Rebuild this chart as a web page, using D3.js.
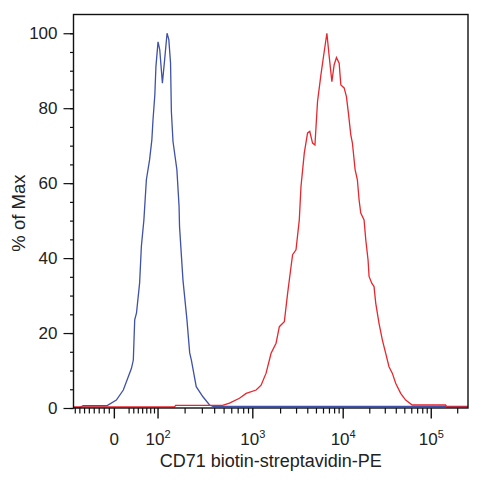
<!DOCTYPE html>
<html>
<head>
<meta charset="utf-8">
<script src="https://cdn.jsdelivr.net/npm/d3@7"></script>
<style>
  body { margin: 0; background: #fff; }
  svg text { font-family: "Liberation Sans", Arial, sans-serif; fill: #222; }
</style>
</head>
<body>
<script>
// unstained / control sample (blue) and stained sample (red), % of max per bin
const blueX = [-84, -70, -63, -15, 4, 18, 35, 39, 42, 46, 53, 57, 63, 69, 77, 83, 86, 91, 94, 100,
  105, 113, 120, 128, 134, 140, 143, 149, 164, 173, 175, 190, 209, 223, 232, 260, 304, 355, 390, 262144]
const blueY = [0.1, 0.1, 0.6, 0.6, 2.1, 4.8, 10.6, 12.8, 23.5, 25.4, 33.4, 43.1, 50.2, 60.9, 66.2, 71.6, 76.9, 83.6, 91.1, 97.7,
  95.6, 86.7, 92.9, 100, 98.3, 92.1, 79.1, 71.1, 63.6, 53.8, 48.4, 34.2, 23.5, 14.7, 12.8, 5.7, 3.0, 0.8, 0.4, 0.4]

const redX = [-84, 155, 159, 482, 568, 722, 850, 1085, 1227, 1389, 1574, 1784, 1938, 2198, 2389, 2605, 2713, 2958, 3218, 3360,
  3656, 3978, 4209, 4523, 4810, 5142, 5612, 6000, 6550, 6952, 7455, 7910, 8395, 9004, 9408, 10247, 10880, 11456, 12190, 12710,
  13640, 14470, 15130, 15810, 17230, 18010, 19120, 19630, 21060, 22350, 23360, 25460, 27760, 30330, 33060, 36030, 39380, 44860, 51140, 60750,
  145440, 150470, 262144]
const redY = [0.3, 0.3, 0.7, 0.7, 1.3, 2.6, 3.9, 4.8, 6.1, 9.3, 14.6, 17.3, 21.7, 23.0, 30.6, 37.7, 40.9, 42.2, 50.2, 59.1,
  68.0, 73.4, 73.8, 70.7, 70.2, 81.8, 88.9, 93.8, 100, 93.8, 87.1, 91.6, 93.5, 92.0, 86.2, 85.4, 83.1, 78.7, 72.9, 70.7,
  63.6, 60.9, 55.5, 52.0, 50.2, 44.9, 39.5, 35.1, 33.3, 32.4, 28.0, 22.6, 18.2, 14.6, 11.0, 9.3, 6.6, 3.9, 2.1, 0.8,
  0.8, 0.3, 0.3]

const xDomain = [-84, 262144]
const xMajor = [0, 100, 1000, 10000, 100000]
const xMajorExp = [null, 2, 3, 4, 5]
const xMinor = [-80, -70, -60, -50, -40, -30, -20, -10, 30, 40, 50, 60, 70, 80, 90,
  200, 300, 400, 500, 600, 700, 800, 900, 2000, 3000, 4000, 5000, 6000, 7000, 8000, 9000,
  20000, 30000, 40000, 50000, 60000, 70000, 80000, 90000, 200000]
const yMajor = [0, 20, 40, 60, 80, 100]
const yMinor = d3.range(0, 105, 5)

const xTitle = 'CD71 biotin-streptavidin-PE'
const yTitle = '% of Max'

// biexponential display transform (value <-> display units)
const biex = { a: 24.4, k: 88, d: 134, m: 230, e: 109.6 }
function biexValue(u) {
  return biex.a * Math.pow(10, u / biex.k) - biex.d * Math.pow(10, -u / biex.m) + biex.e
}
function biexUnits(v) {
  let lo = -300, hi = 600
  for (let i = 0; i < 60; i++) {
    let mid = (lo + hi) / 2
    if (biexValue(mid) < v) lo = mid; else hi = mid
  }
  return (lo + hi) / 2
}

let margins = { top: 14.5, right: 15, bottom: 72, left: 73.5 }
let width = 483 - margins.left - margins.right
let height = 480 - margins.top - margins.bottom

let x = d3.scaleLinear()
  .domain(xDomain.map(biexUnits))
  .range([0, width])
let xPos = (v) => x(biexUnits(v))

let y = d3.scaleLinear()
  .domain([0, 105])
  .range([height, 0])

let svg = d3.select('body').append('svg')
    .attr('width', 483)
    .attr('height', 480)
  .append('g')
    .attr('transform', 'translate(' + [margins.left, margins.top] + ')')

// y axis: minor then major ticks
svg.append('g')
  .call(d3.axisLeft(y).tickValues(yMinor).tickSize(3.5).tickFormat(''))
  .call((g) => g.select('.domain').remove())
  .selectAll('line').attr('stroke', '#111').attr('stroke-width', 1.2)

svg.append('g')
  .call(d3.axisLeft(y).tickValues(yMajor).tickSize(10).tickPadding(6))
  .call((g) => g.select('.domain').remove())
  .call((g) => g.selectAll('line').attr('stroke', '#111').attr('stroke-width', 1.2))
  .selectAll('text')
    .attr('font-size', 17)
    .attr('font-family', '"Liberation Sans", Arial, sans-serif')
    .attr('fill', '#222')

// x axis ticks on the biex scale
let xAxis = svg.append('g').attr('transform', 'translate(0,' + height + ')')

xAxis.selectAll('line.minor')
    .data(xMinor)
  .enter().append('line')
    .attr('class', 'minor')
    .attr('x1', xPos).attr('x2', xPos)
    .attr('y1', 0).attr('y2', 5.5)
    .attr('stroke', '#111')
    .attr('stroke-width', 1.2)

xAxis.selectAll('line.major')
    .data(xMajor)
  .enter().append('line')
    .attr('class', 'major')
    .attr('x1', xPos).attr('x2', xPos)
    .attr('y1', 0).attr('y2', 10.5)
    .attr('stroke', '#111')
    .attr('stroke-width', 1.4)

let labels = xAxis.selectAll('text.tick')
    .data(d3.zip(xMajor, xMajorExp))
  .enter().append('text')
    .attr('class', 'tick')
    .attr('x', (d) => xPos(d[0]))
    .attr('y', 37)
    .attr('text-anchor', 'middle')
    .attr('font-size', 17)

labels.filter((d) => d[1] === null).text('0')
labels.filter((d) => d[1] !== null)
  .each(function (d) {
    let t = d3.select(this)
    t.append('tspan').text('10')
    t.append('tspan').attr('dy', -7).attr('font-size', 11).text(d[1])
  })

// histograms
let line = d3.line()
  .x((d) => xPos(d[0]))
  .y((d) => y(d[1]))

svg.append('path')
  .attr('fill', 'none')
  .attr('stroke', '#3f51a8')
  .attr('stroke-width', 1.3)
  .attr('d', line(d3.zip(blueX, blueY)))

svg.append('path')
  .attr('fill', 'none')
  .attr('stroke', '#e8262e')
  .attr('stroke-width', 1.3)
  .attr('d', line(d3.zip(redX, redY)))

// frame
svg.append('rect')
  .attr('width', width)
  .attr('height', height)
  .attr('fill', 'none')
  .attr('stroke', '#111')
  .attr('stroke-width', 1.4)

// titles
svg.append('text')
  .attr('x', width / 2)
  .attr('y', height + 59)
  .attr('text-anchor', 'middle')
  .attr('font-size', 18)
  .text(xTitle)

svg.append('text')
  .attr('transform', 'translate(' + [-48.5, y(52)] + ') rotate(-90)')
  .attr('text-anchor', 'middle')
  .attr('font-size', 18.5)
  .text(yTitle)
</script>
</body>
</html>
